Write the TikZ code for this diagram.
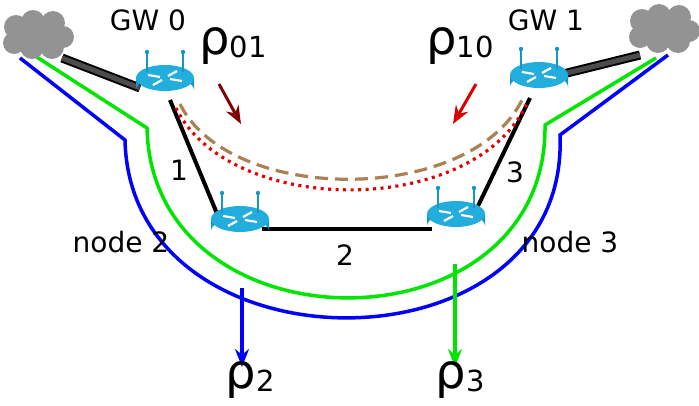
\documentclass[tikz,border=0pt]{standalone}
\usepackage{fontspec}
\setmainfont{DejaVu Sans}
\usetikzlibrary{arrows.meta}
\definecolor{rc}{HTML}{1597C4}
\definecolor{rt}{HTML}{22ADDC}
\tikzset{
  lbl/.style={font=\fontsize{28}{30}\selectfont},
  rho/.style={font=\fontsize{48}{50}\selectfont},
  link/.style={line width=4pt,black},
  router/.pic={
    \fill[rc] (-29,0) -- (-29,12) arc[start angle=180,end angle=360,x radius=29,y radius=13] -- (29,0) -- cycle;
    \fill[rt] (0,0) ellipse[x radius=29,y radius=13];
    \draw[white,line width=2.2pt] (-17,-3)--(-5,-1) (17,3)--(5,1) (-12,7)--(-3,2) (12,-7)--(3,-2);
    \draw[rc,line width=1.8pt] (-18,-6)--(-18,-26) (18,-6)--(18,-26);
    \fill[rc] (-18,-26) circle(2.2) (18,-26) circle(2.2);
  },
  cloud/.pic={
    \fill[gray!85] (-22,-10) circle(12) (-5,-15) circle(12) (15,-14) circle(12) (25,0) circle(11) (14,10) circle(12) (-6,10) circle(12) (-24,6) circle(11) (0,0) circle(16);
  }
}
\newcommand{\rsub}[1]{\raisebox{-3pt}{\fontsize{29}{31}\selectfont #1}}
\begin{document}
\begin{tikzpicture}[x=1pt,y=-1pt]
\useasboundingbox (0,0) rectangle (699,405);
% paths
\draw[blue,line width=3.5pt] (20,58) -- (125,140) .. controls (130,378) and (570,378) .. (560,135) -- (668,55);
\draw[green!90!black,line width=3.5pt] (32,54) -- (147,128) .. controls (152,355) and (548,355) .. (545,125) -- (656,58);
\coordinate (b0) at (242,288); \coordinate (b1) at (242,367);
\coordinate (g0) at (455,264); \coordinate (g1) at (455,367);
\draw[blue,line width=3.5pt,-{Stealth[length=18pt,width=14pt]}] (b0) -- (b1);
\draw[green!90!black,line width=3.5pt,-{Stealth[length=18pt,width=14pt]}] (g0) -- (g1);
\node[rho] (r2) at (250,380) {ρ\rsub{2}};
\node[rho] (r3) at (460,380) {ρ\rsub{3}};
% clouds and uplinks
\pic at (38,37) {cloud};
\pic at (664,31) {cloud};
\coordinate (c0) at (62,58); \coordinate (c1) at (640,55);
\coordinate (w0) at (140,88); \coordinate (w1) at (563,74);
\draw[black,line width=9pt] (c0) -- (w0);
\draw[gray!60!black,line width=5pt] (c0) -- (w0);
\draw[black,line width=9pt] (c1) -- (w1);
\draw[gray!60!black,line width=5pt] (c1) -- (w1);
% links
\coordinate (l0) at (170,100); \coordinate (l2) at (218,216);
\coordinate (l2b) at (262,229); \coordinate (l3b) at (432,229);
\coordinate (l3) at (478,206); \coordinate (l1) at (530,98);
\draw[link] (l0) -- (l2);
\draw[link] (l2b) -- (l3b);
\draw[link] (l3) -- (l1);
\node[lbl] (n1) at (179,170) {1};
\node[lbl] (n2) at (345,255) {2};
\node[lbl] (n3) at (515,172) {3};
% dashed/dotted
\coordinate (d0) at (180,104); \coordinate (d1) at (522,100);
\draw[brown!70!gray,line width=3.2pt,dash pattern=on 13pt off 7pt] (d0) .. controls (230,205) and (470,205) .. (d1);
\coordinate (e0) at (176,108); \coordinate (e1) at (527,103);
\draw[red!90!black,line width=3.2pt,dash pattern=on 3pt off 4.5pt] (e0) .. controls (230,218) and (475,218) .. (e1);
% routers
\pic at (165,78) {router};
\pic at (539,75) {router};
\pic at (240,219) {router};
\pic at (456,214) {router};
% labels
\node[lbl] (gw0) at (148,20) {GW 0};
\node[lbl] (gw1) at (546,20) {GW 1};
\node[lbl] (nd2) at (121,242) {node 2};
\node[lbl] (nd3) at (570,242) {node 3};
\node[rho] (r01) at (233,46) {ρ\rsub{01}};
\node[rho] (r10) at (460,46) {ρ\rsub{10}};
\coordinate (a0) at (219,84); \coordinate (a1) at (241,124);
\coordinate (a2) at (476,84); \coordinate (a3) at (453,124);
\draw[red!50!black,line width=3pt,-{Stealth[length=18pt,width=14pt]}] (a0) -- (a1);
\draw[red!85!black,line width=3pt,-{Stealth[length=18pt,width=14pt]}] (a2) -- (a3);
\end{tikzpicture}
\end{document}
